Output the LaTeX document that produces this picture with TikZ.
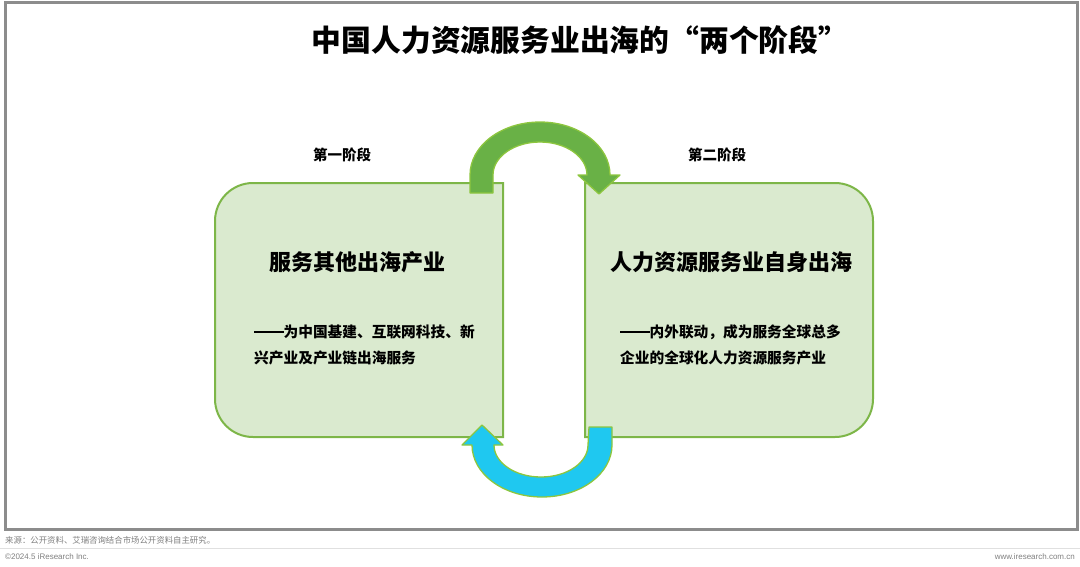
\documentclass[tikz,border=0pt]{standalone}
\usepackage{fontspec}
\setmainfont{Liberation Sans}
\newfontfamily\cjk{Noto Sans CJK SC}
\definecolor{boxfill}{HTML}{DAEACF}
\definecolor{boxline}{HTML}{7DB648}
\definecolor{arrgreen}{HTML}{69B146}
\definecolor{arrline}{HTML}{8DC63F}
\definecolor{arrblue}{HTML}{1FC8F0}
\definecolor{framegray}{HTML}{8C8C8C}
\definecolor{notegray}{HTML}{7F7F7F}
\newcommand{\longdash}{\rule[0.32em]{2em}{0.12em}}
\tikzset{
  stagebox/.style={fill=boxfill,draw=boxline,line width=2pt},
  curvearrow/.style={draw=arrline,line width=1.3pt,line join=round},
  titletext/.style={font=\cjk\bfseries\fontsize{29.8}{32}\selectfont,inner sep=0pt},
  headtext/.style={font=\cjk\bfseries\fontsize{22}{26}\selectfont,inner sep=0pt},
  stagetext/.style={font=\cjk\bfseries\fontsize{14.5}{17}\selectfont,inner sep=0pt},
  bodytext/.style={font=\cjk\bfseries\fontsize{14.7}{17}\selectfont,inner sep=0pt,anchor=west},
  notetext/.style={font=\cjk\fontsize{8.4}{10}\selectfont,text=notegray,inner sep=0pt},
}
\begin{document}
\begin{tikzpicture}[x=1pt,y=1pt]
\useasboundingbox (0,0) rectangle (1080,-566);
% outer frame
\draw[framegray,line width=3pt] (5,-2) rectangle (1077,-529);
% separator
\draw[black!12,line width=1pt] (0,-548) -- (1080,-548);

% title
\node[titletext] (title) at (580,-40) {中国人力资源服务业出海的“两个阶段”};
\node[stagetext] (s1) at (342,-155) {第一阶段};
\node[stagetext] (s2) at (717,-155) {第二阶段};

% boxes
\draw[stagebox] (503,-183) -- (253,-183) arc[start angle=90,end angle=180,radius=38]
  -- (215,-399) arc[start angle=180,end angle=270,radius=38] -- (503,-437) -- cycle;
\draw[stagebox] (585,-183) -- (835,-183) arc[start angle=90,end angle=0,radius=38]
  -- (873,-399) arc[start angle=0,end angle=-90,radius=38] -- (585,-437) -- cycle;

% box texts
\node[headtext] (h1) at (357,-262) {服务其他出海产业};
\node[bodytext] (b1a) at (254,-332) {\longdash 为中国基建、互联网科技、新};
\node[bodytext] (b1b) at (254,-358) {兴产业及产业链出海服务};
\node[headtext] (h2) at (731,-262) {人力资源服务业自身出海};
\node[bodytext] (b2a) at (620,-332) {\longdash 内外联动，成为服务全球总多};
\node[bodytext] (b2b) at (620,-358) {企业的全球化人力资源服务产业};

% top green curved arrow
\draw[curvearrow,fill=arrgreen] (470,-193) -- (470,-175) arc[start angle=180,end angle=0,x radius=70,y radius=53]
  -- (620,-175) -- (599,-194) -- (578,-175) -- (587,-175)
  arc[start angle=0,end angle=180,x radius=47,y radius=33] -- (493,-193) -- cycle;

% bottom blue curved arrow
\draw[curvearrow,fill=arrblue] (612,-427) -- (612,-445) arc[start angle=0,end angle=-180,x radius=70,y radius=52]
  -- (462,-445) -- (482,-425) -- (503,-445) -- (494,-445)
  arc[start angle=180,end angle=360,x radius=47,y radius=32] -- (589,-427) -- cycle;

% footnotes
\node[notetext,anchor=west] (src) at (5,-540) {来源：公开资料、艾瑞咨询结合市场公开资料自主研究。};
\node[notetext,anchor=west,font=\fontsize{8}{10}\selectfont] (copy) at (5,-557) {©2024.5 iResearch Inc.};
\node[notetext,anchor=east,font=\fontsize{8}{10}\selectfont] (web) at (1075,-557) {www.iresearch.com.cn};
\end{tikzpicture}
\end{document}
